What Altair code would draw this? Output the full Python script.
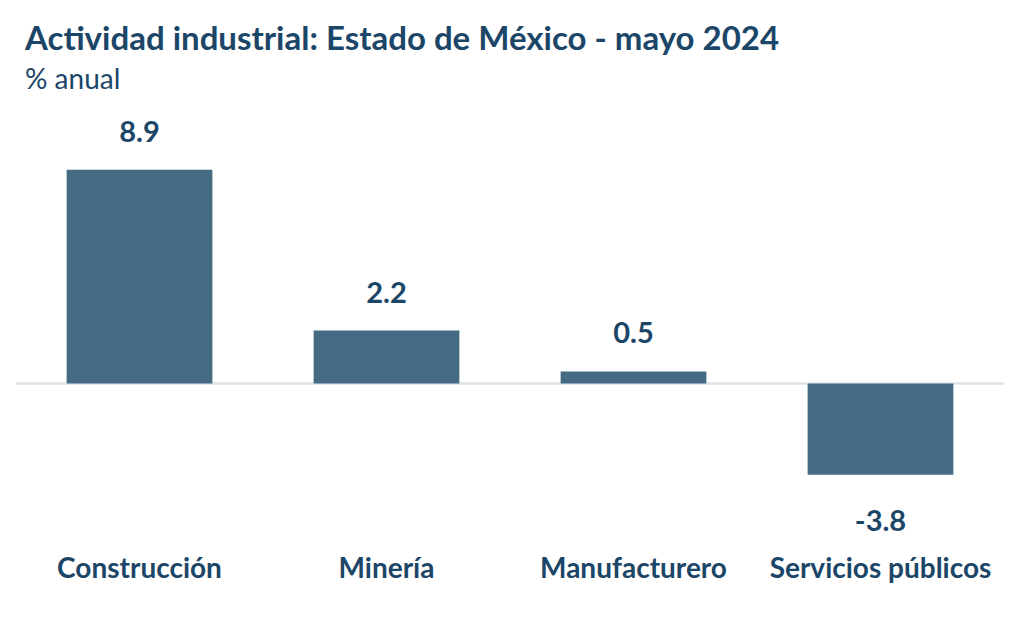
import altair as alt
import pandas as pd

categorias = ["Construcción", "Minería", "Manufacturero", "Servicios públicos"]
valores = [8.9, 2.2, 0.5, -3.8]
etiquetas = ["8.9", "2.2", "0.5", "-3.8"]

df = pd.DataFrame({"cat": categorias, "val": valores, "lab": etiquetas})
cero = pd.DataFrame({"z": [0.0]})

BAR = "#446a84"
TXT = "#1c4668"
FONT = "Lato"

x = alt.X("cat:N", sort=categorias, title=None,
          scale=alt.Scale(paddingInner=0.41, paddingOuter=0.205),
          axis=alt.Axis(orient="bottom", labelAngle=0, labelFont=FONT, labelFontSize=28,
                        labelFontWeight="bold", labelColor=TXT, domain=False, ticks=False,
                        labelPadding=13, labelBaseline="top", labelLimit=0))
yscale = alt.Scale(domain=[-6.6, 11.3], nice=False, zero=False)
y = alt.Y("val:Q", title=None, scale=yscale, axis=None)

base = alt.Chart(df).encode(x=x)

bars = base.mark_bar(color=BAR).encode(y=y)
zero = alt.Chart(cero).mark_rule(color="#dde4ea", strokeWidth=2.5).encode(
    y=alt.Y("z:Q", scale=yscale, axis=None))
pos = base.transform_filter("datum.val >= 0").mark_text(
    font=FONT, fontSize=29, fontWeight="bold", color=TXT, baseline="middle", dy=-37
).encode(y=y, text="lab:N")
neg = base.transform_filter("datum.val < 0").mark_text(
    font=FONT, fontSize=29, fontWeight="bold", color=TXT, baseline="middle", dy=47
).encode(y=y, text="lab:N")

chart = alt.layer(zero, bars, pos, neg).properties(
    width=988, height=430,
    autosize=alt.AutoSizeParams(type="none"),
    padding={"left": 8, "top": 104, "right": 8, "bottom": 60},
    title=alt.Title(
        "Actividad industrial: Estado de México - mayo 2024",
        subtitle="% anual",
        anchor="start", frame="group", offset=17, dx=9,
        font=FONT, fontSize=33, fontWeight="bold", color=TXT,
        subtitleFont=FONT, subtitleFontSize=28, subtitleColor=TXT, subtitlePadding=10,
    ),
).configure_view(stroke=None)

chart.save("out.html", embed_options={"renderer": "svg", "actions": False})
